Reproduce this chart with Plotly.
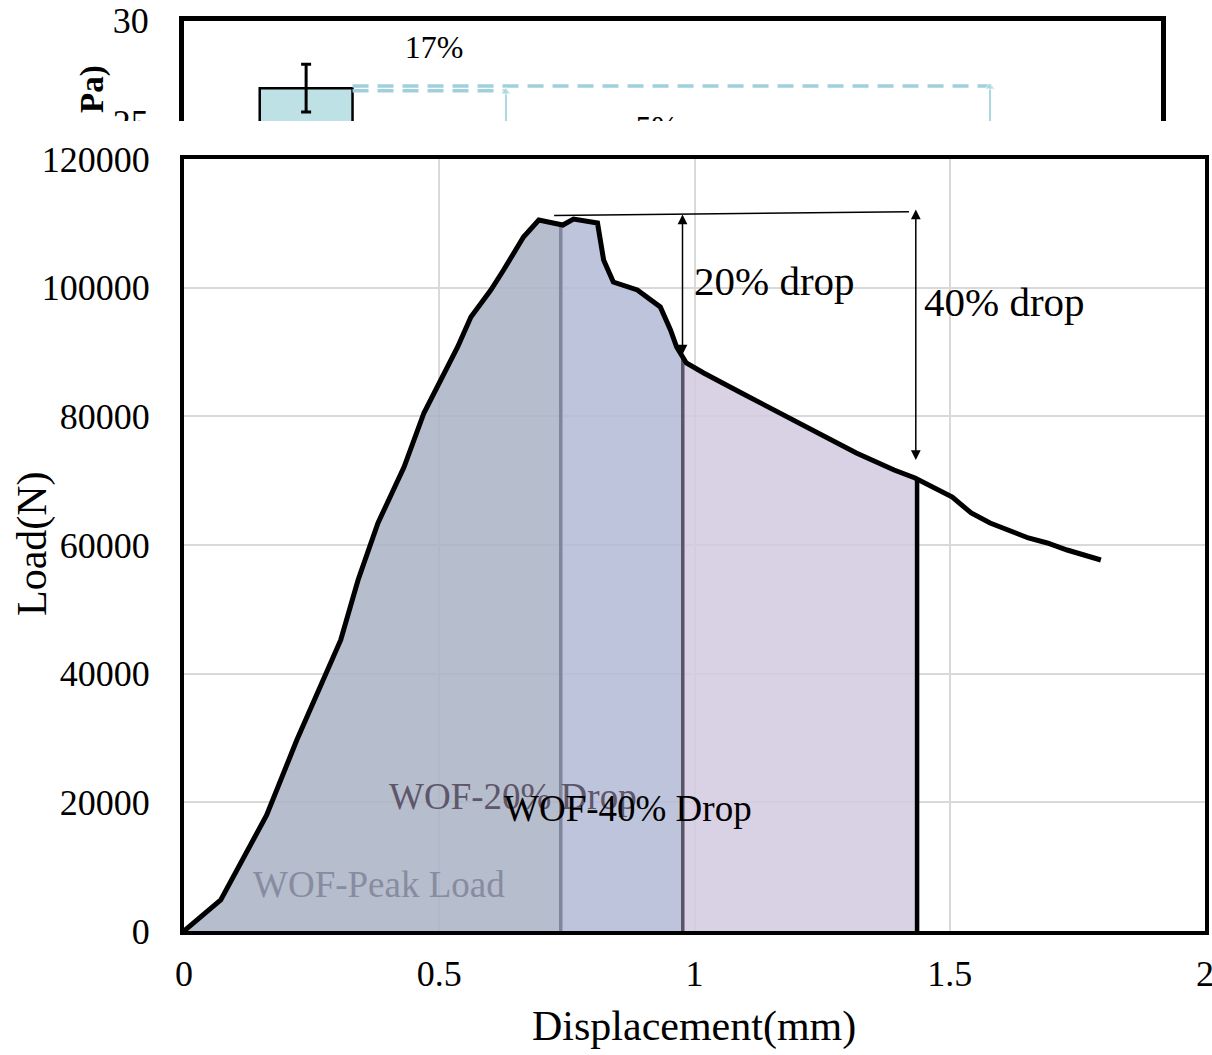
import numpy as np
import plotly.graph_objects as go

W, H = 1212, 1055
FONT = "Liberation Serif"

# ---------------- main load-displacement data ----------------
disp = [0, 0.072, 0.162, 0.221, 0.307, 0.341, 0.380, 0.431, 0.470, 0.503, 0.536, 0.562,
        0.601, 0.626, 0.665, 0.695, 0.714, 0.742, 0.763, 0.791, 0.810, 0.822, 0.841,
        0.888, 0.920, 0.933, 0.953, 0.965, 0.984, 1.018, 1.092, 1.168, 1.243, 1.317,
        1.391, 1.432, 1.505, 1.542, 1.579, 1.616, 1.654, 1.691, 1.730, 1.796]
load = [0, 4820, 18030, 29690, 45230, 54560, 63420, 72120, 80520, 85650, 90780, 95440,
        99640, 102740, 107870, 110520, 110210, 109740, 110670, 110360, 110050, 104300, 100880,
        99640, 97620, 97000, 93420, 90780, 88290, 86740, 83630, 80520, 77410, 74300,
        71660, 70420, 67460, 64970, 63420, 62330, 61090, 60310, 59220, 57670]

# work-of-fracture region limits (displacement)
region_names = ["WOF-Peak Load", "WOF-20% Drop", "WOF-40% Drop"]
region_ends = [0.738, 0.977, 1.436]
region_fill = ["rgba(169,177,196,0.85)", "rgba(178,186,213,0.85)", "rgba(210,201,223,0.85)"]
region_edge = ["#80869c", "#5b5468", "#000000"]
region_text_color = ["#878ca0", "#5e5669", "#000000"]
region_text_pos = [(0.3816, 7300), (0.6438, 20900), (0.8689, 19100)]

# drop markers
drop_labels = ["20% drop", "40% drop"]
drop_x = [0.9765, 1.4335]
drop_top = [111600, 112380]
drop_bottom = [89600, 73200]
drop_text_pos = [(1.1566, 101000), (1.6067, 97700)]
peak_line_x = [0.725, 1.42]
peak_line_y = [111200, 111800]

# ---------------- top (partially hidden) bar chart ----------------
bar_x = [0]
bar_y = [26.68]
bar_err = [1.17]
dash_upper = ([0.19, 2.80], [26.79, 26.79])
dash_lower = ([0.19, 0.818], [26.56, 26.56])
arrow_x = [0.818, 2.80]
arrow_top = [26.50, 26.74]
pct_labels = ["17%", "5%"]
pct_pos = [(0.524, 28.55), (1.436, 24.63)]

fig = go.Figure()

# fills
starts = [0.0] + region_ends[:-1]
for i, (x0, x1) in enumerate(zip(starts, region_ends)):
    xs = [x0] + [d for d in disp if x0 < d < x1] + [x1]
    ys = list(np.interp(xs, disp, load))
    fig.add_trace(go.Scatter(x=xs + [x1, x0], y=ys + [0, 0], fill="toself",
                             fillcolor=region_fill[i], mode="lines",
                             line=dict(width=0), showlegend=False, hoverinfo="skip"))
for i, x1 in enumerate(region_ends):
    fig.add_trace(go.Scatter(x=[x1, x1], y=[0, float(np.interp(x1, disp, load))], mode="lines",
                             line=dict(color=region_edge[i], width=3.5 if i < 2 else 4.5),
                             showlegend=False, hoverinfo="skip"))

# load curve
fig.add_trace(go.Scatter(x=disp, y=load, mode="lines", line=dict(color="black", width=5),
                         showlegend=False))
# peak reference line
fig.add_trace(go.Scatter(x=peak_line_x, y=peak_line_y, mode="lines",
                         line=dict(color="black", width=1.5), showlegend=False))

# top chart traces
fig.add_trace(go.Bar(x=bar_x, y=bar_y, width=0.38, xaxis="x2", yaxis="y2",
                     marker=dict(color="#bde1e4", line=dict(color="black", width=2.5)),
                     error_y=dict(type="data", array=bar_err, color="black", thickness=3, width=5),
                     showlegend=False))
for xs, ys in (dash_upper, dash_lower):
    fig.add_trace(go.Scatter(x=xs, y=ys, mode="lines", xaxis="x2", yaxis="y2",
                             line=dict(color="#9fd0dc", width=3.5, dash="16px,9px"),
                             showlegend=False))
for ax_, at in zip(arrow_x, arrow_top):
    fig.add_trace(go.Scatter(x=[ax_, ax_], y=[23.5, at], mode="lines+markers", xaxis="x2", yaxis="y2",
                             line=dict(color="#a9d8de", width=2),
                             marker=dict(symbol="triangle-up", size=[0, 9], color="#a9d8de"),
                             showlegend=False))
fig.add_trace(go.Scatter(x=[p[0] for p in pct_pos], y=[p[1] for p in pct_pos], mode="text",
                         text=pct_labels, xaxis="x2", yaxis="y2",
                         textfont=dict(family=FONT, size=32, color="black"), showlegend=False))

ann = []
C = dict(xanchor="center", yanchor="middle", showarrow=False)
for i, name in enumerate(region_names):
    ann.append(dict(x=region_text_pos[i][0], y=region_text_pos[i][1], xref="x", yref="y",
                    text=name, font=dict(family=FONT, size=37, color=region_text_color[i]), **C))
for i, lab in enumerate(drop_labels):
    ann.append(dict(x=drop_x[i], y=drop_bottom[i], ax=drop_x[i], ay=drop_top[i],
                    xref="x", yref="y", axref="x", ayref="y", text="", showarrow=True,
                    arrowhead=2, arrowsize=1.3, arrowwidth=1.5, arrowside="end+start",
                    arrowcolor="black", standoff=0, startstandoff=0))
    ann.append(dict(x=drop_text_pos[i][0], y=drop_text_pos[i][1], xref="x", yref="y",
                    text=lab, font=dict(family=FONT, size=41, color="black"), **C))
# axis titles
ann.append(dict(x=32 / W, y=1 - 544 / H, xref="paper", yref="paper", text="Load(N)",
                textangle=-90, font=dict(family=FONT, size=42, color="black"), **C))
ann.append(dict(x=694 / W, y=1 - 1026 / H, xref="paper", yref="paper", text="Displacement(mm)",
                font=dict(family=FONT, size=42, color="black"), **C))
ann.append(dict(x=93 / W, y=1 - 63 / H, xref="paper", yref="paper", text="<b>Pa)</b>",
                textangle=-90, showarrow=False, xanchor="center", yanchor="top",
                font=dict(family=FONT, size=33, color="black")))

fig.update_layout(
    width=W, height=H, margin=dict(l=0, r=0, t=0, b=0, pad=0, autoexpand=False),
    paper_bgcolor="white", plot_bgcolor="white",
    font=dict(family=FONT, color="black"),
    xaxis=dict(domain=[184 / W, 1205 / W], range=[0, 2], dtick=0.5, showgrid=True,
               gridcolor="#d9d9d9", gridwidth=1.5, zeroline=False, showline=True,
               linecolor="black", linewidth=4, mirror=True, ticks="", automargin=False,
               ticklabeloverflow="allow", ticklabelstandoff=8,
               tickfont=dict(family=FONT, size=36, color="black")),
    yaxis=dict(domain=[1 - 931 / H, 1 - 159 / H], range=[0, 120000], dtick=20000,
               tickformat="d", showgrid=True, gridcolor="#d9d9d9", gridwidth=1.5,
               zeroline=False, showline=True, linecolor="black", linewidth=4, mirror=True,
               ticks="", automargin=False, ticklabelstandoff=23,
               tickfont=dict(family=FONT, size=36, color="black")),
    xaxis2=dict(domain=[184 / W, 1161 / W], range=[-0.5, 3.5], anchor="y2", side="top",
                showticklabels=False, showgrid=False, zeroline=False, showline=True,
                linecolor="black", linewidth=5, ticks="", automargin=False),
    yaxis2=dict(domain=[1 - 140 / H, 1 - 20.5 / H], range=[24.14, 30], anchor="x2",
                tickvals=[25, 30], showgrid=False, zeroline=False, showline=True,
                linecolor="black", linewidth=5, mirror=True, ticks="", ticklabelstandoff=23,
                automargin=False, tickfont=dict(family=FONT, size=36, color="black")),
    shapes=[dict(type="rect", xref="paper", yref="paper", x0=0, x1=1,
                 y0=1 - 144 / H, y1=1 - 121 / H, fillcolor="white", line=dict(width=0),
                 layer="above")],
    annotations=ann,
)

fig.write_html("out.html", config={"displayModeBar": False},
               post_script="document.body.style.margin='0px';")
